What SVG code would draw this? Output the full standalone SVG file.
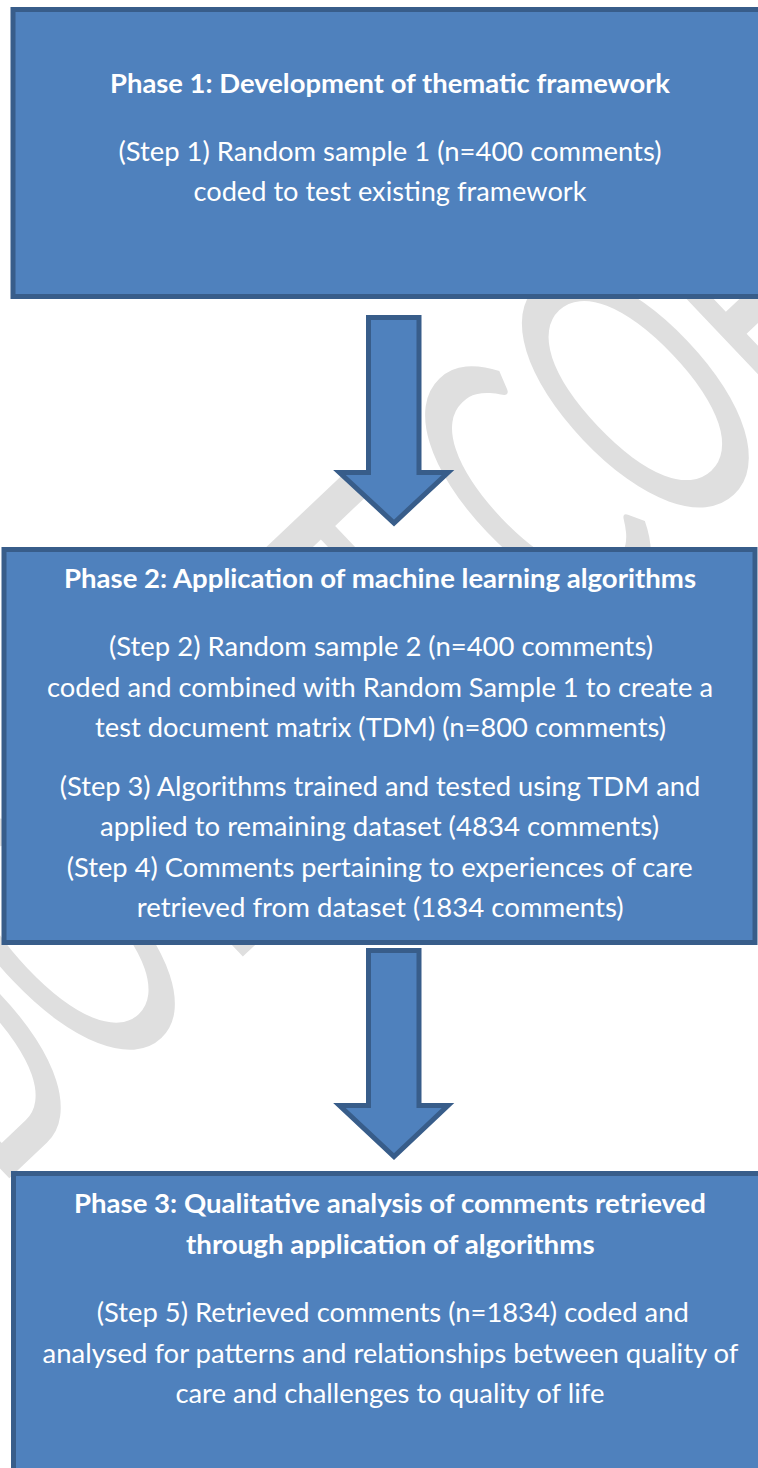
<svg xmlns="http://www.w3.org/2000/svg" width="758" height="1468" viewBox="0 0 758 1468">
<style>
.box{fill:#4F81BD;stroke:#385D8A;stroke-width:5}
.arr{fill:#4F81BD;stroke:#385D8A;stroke-width:5;stroke-linejoin:miter}
.t{font-family:Lato,"Open Sans","Liberation Sans",sans-serif;font-size:27.5px;fill:#FFFFFF;text-anchor:middle}
.b{font-weight:bold}
.wm{font-family:Lato,"Open Sans","Liberation Sans",sans-serif;font-size:100px;fill:#DFDFDF}
</style>
<rect width="758" height="1468" fill="#FFFFFF"/>
<g id="watermark">
<text class="wm" transform="translate(-23.2,1209.1) rotate(-43.5) scale(2.378,3.92)"><tspan x="11.4" y="0" textLength="127" lengthAdjust="spacingAndGlyphs">DO</tspan> <tspan x="146.4" y="0" textLength="429.3" lengthAdjust="spacingAndGlyphs">NOT COPY</tspan></text>
</g>
<g id="connectors">
<path class="arr" d="M368.5,317.5 H419 V472.5 H448 L394,523 L339.5,472.5 H368.5 Z"/>
<path class="arr" d="M368.5,950.5 H419 V1105.5 H448 L394,1156.5 L339.5,1105.5 H368.5 Z"/>
</g>
<g id="phase1">
<rect class="box" x="13" y="9.5" width="757" height="287"/>
<text class="t b" x="390" y="92.7" textLength="560" lengthAdjust="spacingAndGlyphs">Phase 1: Development of thematic framework</text>
<text class="t" x="390" y="160.5" textLength="543" lengthAdjust="spacingAndGlyphs">(Step 1) Random sample 1 (n=400 comments)</text>
<text class="t" x="390" y="201" textLength="393" lengthAdjust="spacingAndGlyphs">coded to test existing framework</text>
</g>
<g id="phase2">
<rect class="box" x="4" y="549.5" width="751" height="393"/>
<text class="t b" x="380" y="588.3" textLength="632" lengthAdjust="spacingAndGlyphs">Phase 2: Application of machine learning algorithms</text>
<text class="t" x="381" y="656" textLength="544" lengthAdjust="spacingAndGlyphs">(Step 2) Random sample 2 (n=400 comments)</text>
<text class="t" x="380" y="696.5" textLength="666" lengthAdjust="spacingAndGlyphs">coded and combined with Random Sample 1 to create a</text>
<text class="t" x="380.5" y="737" textLength="571" lengthAdjust="spacingAndGlyphs">test document matrix (TDM) (n=800 comments)</text>
<text class="t" x="380" y="795.5" textLength="640.5" lengthAdjust="spacingAndGlyphs">(Step 3) Algorithms trained and tested using TDM and</text>
<text class="t" x="379.5" y="835.5" textLength="559" lengthAdjust="spacingAndGlyphs">applied to remaining dataset (4834 comments)</text>
<text class="t" x="379.7" y="876.7" textLength="626" lengthAdjust="spacingAndGlyphs">(Step 4) Comments pertaining to experiences of care</text>
<text class="t" x="380.2" y="917.3" textLength="487" lengthAdjust="spacingAndGlyphs">retrieved from dataset (1834 comments)</text>
</g>
<g id="phase3">
<rect class="box" x="13.5" y="1173.5" width="757" height="310"/>
<text class="t b" x="390" y="1213.3" textLength="632" lengthAdjust="spacingAndGlyphs">Phase 3: Qualitative analysis of comments retrieved</text>
<text class="t b" x="390.3" y="1253.5" textLength="408.6" lengthAdjust="spacingAndGlyphs">through application of algorithms</text>
<text class="t" x="392.8" y="1322.3" textLength="592" lengthAdjust="spacingAndGlyphs">(Step 5) Retrieved comments (n=1834) coded and</text>
<text class="t" x="390.5" y="1362.7" textLength="696" lengthAdjust="spacingAndGlyphs">analysed for patterns and relationships between quality of</text>
<text class="t" x="389.9" y="1403.3" textLength="429" lengthAdjust="spacingAndGlyphs">care and challenges to quality of life</text>
</g>
</svg>
